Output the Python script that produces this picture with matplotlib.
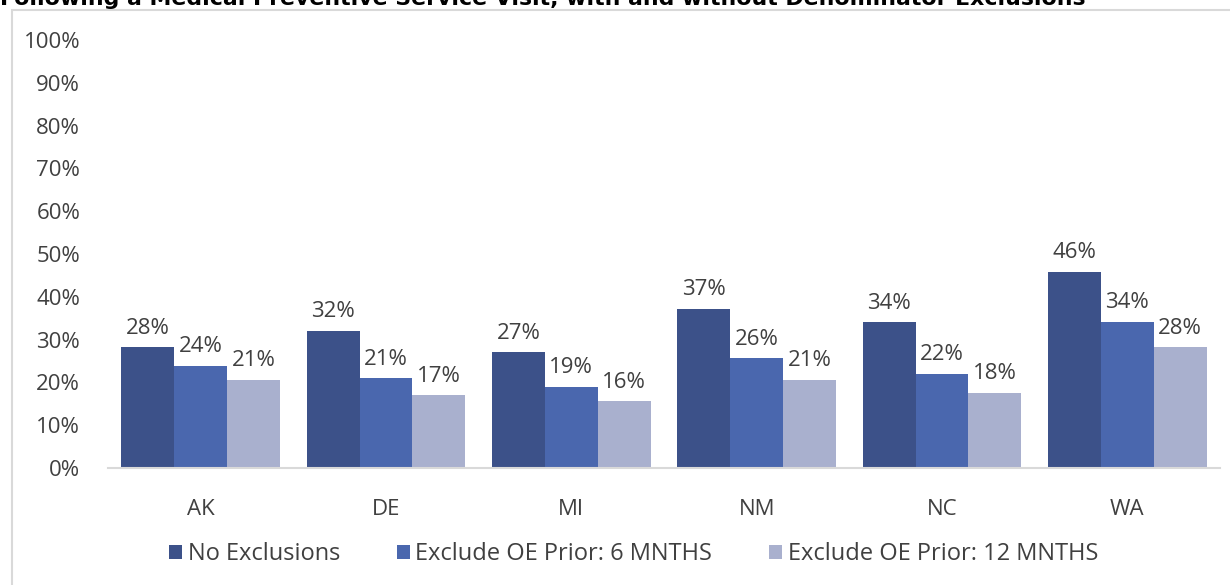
import matplotlib
matplotlib.use("Agg")
import matplotlib.pyplot as plt
from matplotlib.patches import Rectangle
import numpy as np

states = ["AK", "DE", "MI", "NM", "NC", "WA"]
no_excl = [28.2, 32.0, 27.0, 37.2, 34.0, 45.8]
excl_6 = [23.9, 21.0, 19.0, 25.6, 22.0, 34.2]
excl_12 = [20.6, 17.0, 15.6, 20.6, 17.6, 28.2]
series_names = ["No Exclusions", "Exclude OE Prior: 6 MNTHS", "Exclude OE Prior: 12 MNTHS"]
colors = ["#3C5189", "#4A67AE", "#A9B0CE"]

plt.rcParams["font.family"] = ["Open Sans", "DejaVu Sans"]
txt = "#404040"

fig = plt.figure(figsize=(12.3, 5.85), dpi=100)
ax = fig.add_axes([0.0878, 0.2, 0.9041, 0.7316])

# chart border
fig.patches.append(Rectangle((12 / 1230, -0.01), 1.0, 1 - 10 / 585 + 0.01,
                             transform=fig.transFigure, fill=False,
                             edgecolor="#D9D9D9", linewidth=1.5))

# title is cut off at the top edge, as in the source image
fig.text(0.0, 1 - 5 / 585, "Following a Medical Preventive Service Visit, with and without Denominator Exclusions",
         fontsize=15.8, fontweight="bold", color="black", va="baseline", ha="left",
         family="DejaVu Sans")

x = np.arange(len(states))
w = 0.285
for i, (vals, name, c) in enumerate(zip([no_excl, excl_6, excl_12], series_names, colors)):
    pos = x + (i - 1) * w
    ax.bar(pos, vals, w, color=c, label=name)
    for p, v in zip(pos, vals):
        ax.text(p, v + 2.0, f"{round(v):d}%", ha="center", va="bottom",
                fontsize=16, color=txt)

ax.set_xlim(-0.5, len(states) - 0.5)
ax.set_ylim(0, 100)
ax.set_yticks(range(0, 101, 10))
ax.set_yticklabels([f"{t}%" for t in range(0, 101, 10)])
ax.set_xticks(x)
ax.set_xticklabels(states)
ax.tick_params(axis="both", length=0, labelsize=16, colors=txt)
ax.tick_params(axis="x", pad=22)
ax.tick_params(axis="y", pad=20)
for s in ["top", "right", "left"]:
    ax.spines[s].set_visible(False)
ax.spines["bottom"].set_color("#D9D9D9")
ax.spines["bottom"].set_linewidth(1.5)

fig.legend(loc="center", bbox_to_anchor=(0.515, 1 - 554 / 585), ncol=3,
           frameon=False, fontsize=17, handlelength=0.55, handleheight=0.55,
           handletextpad=0.25, columnspacing=2.4, labelcolor=txt)

fig.savefig("out.png", dpi=100)
